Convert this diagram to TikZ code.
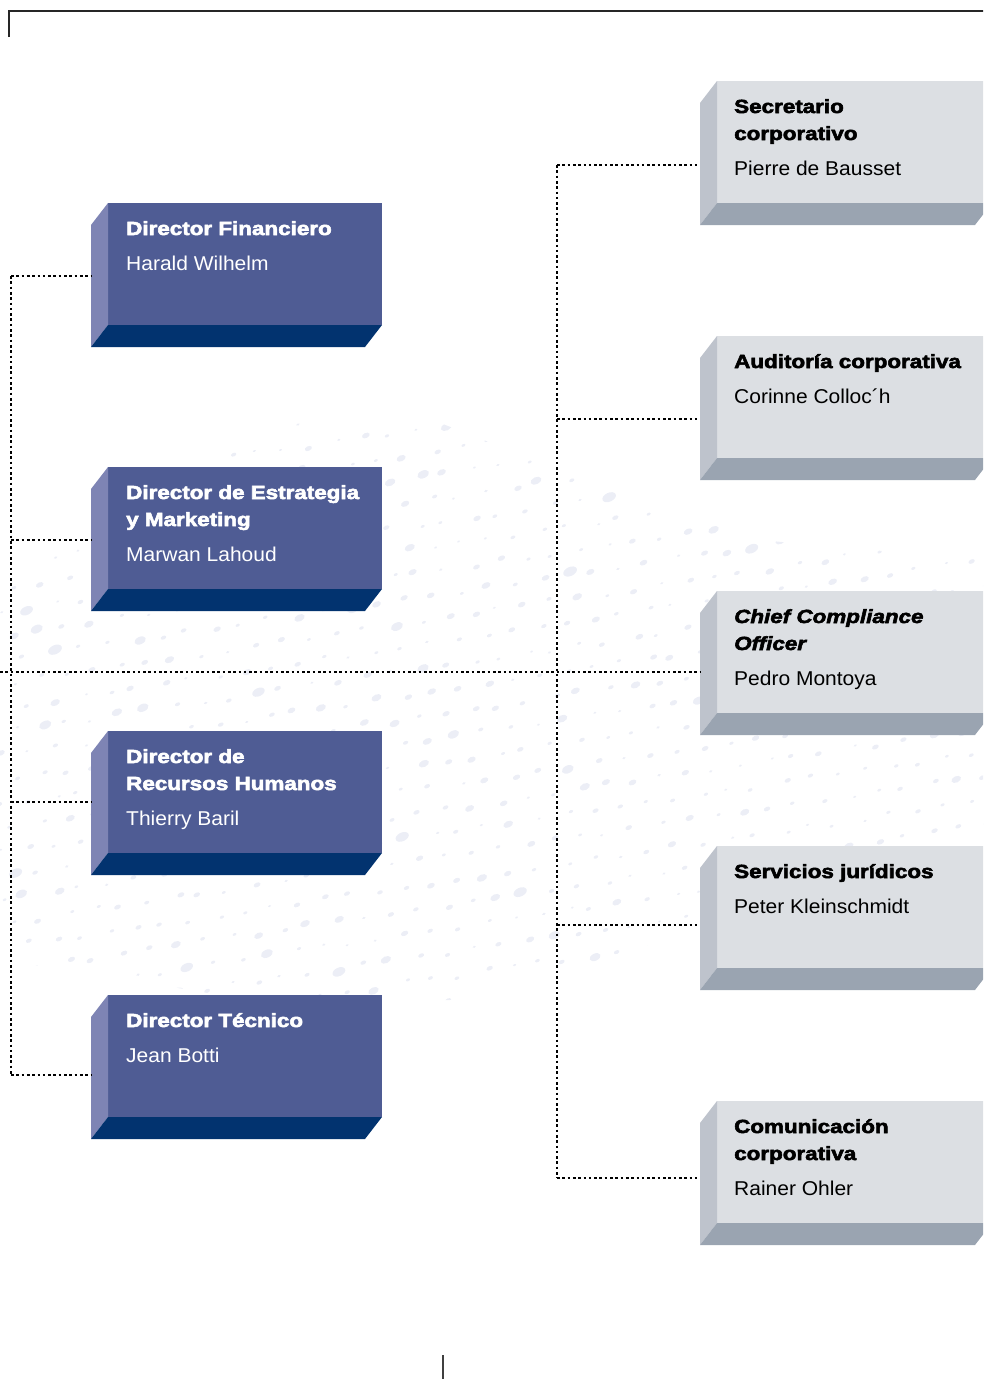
\documentclass[tikz,border=0pt]{standalone}
\usepackage{fontspec}
\setmainfont{Liberation Sans}
\newfontfamily\hfont{Liberation Sans}[BoldFeatures={FakeBold=3,FakeStretch=1.18},BoldItalicFeatures={FakeBold=3,FakeStretch=1.18}]
\newfontfamily\nfont{Liberation Sans}[FakeStretch=1.05]
\definecolor{bfront}{HTML}{4F5C94}
\definecolor{bside}{HTML}{7E84B4}
\definecolor{bbottom}{HTML}{02336F}
\definecolor{gfront}{HTML}{DCDFE3}
\definecolor{gside}{HTML}{BEC3CC}
\definecolor{gbottom}{HTML}{9AA4B1}
\definecolor{blobc}{HTML}{ECEEF6}
\tikzset{
  dotline/.style={line width=2.8pt, dash pattern=on 2.6pt off 2.7pt, line cap=butt, black},
  hit/.style={inner sep=0pt, outer sep=0pt, draw=none},
  bhead/.style={anchor=base west, inner sep=0pt, text=white, font=\hfont\bfseries\fontsize{19}{27}\selectfont},
  bname/.style={anchor=base west, inner sep=0pt, text=white, font=\nfont\fontsize{20}{27}\selectfont},
  ghead/.style={bhead, text=black},
  gname/.style={bname, text=black},
  frameline/.style={line width=1.3pt, black!85},
}
\newcommand\bluefaces[1]{%
  \fill[bfront] (108,#1) rectangle (382,#1+122);
  \fill[bside] (91,#1+22) -- (108,#1) -- (108,#1+122) -- (91,#1+144) -- cycle;
  \fill[bbottom] (108,#1+122) -- (382,#1+122) -- (365,#1+144) -- (91,#1+144) -- cycle;
}
\newcommand\greyfaces[1]{%
  \fill[gfront] (717,#1) rectangle (992,#1+122);
  \fill[gside] (700,#1+22) -- (717,#1) -- (717,#1+122) -- (700,#1+144) -- cycle;
  \fill[gbottom] (717,#1+122) -- (992,#1+122) -- (975,#1+144) -- (700,#1+144) -- cycle;
}
\begin{document}
\begin{tikzpicture}[x=1pt,y=-1pt]
\useasboundingbox (0,0) rectangle (983,1379);
\clip (0,0) rectangle (983,1379);
% background pattern
\begin{scope}
\clip (0,585) -- (120,500) -- (280,425) -- (420,415) -- (560,470) -- (760,540) -- (983,560) -- (983,840) -- (800,900) -- (600,960) -- (450,1000) -- (250,1000) -- (100,975) -- (0,960) -- cycle;
\pgfmathsetseed{11}
\foreach \i in {0,...,30}{
  \foreach \j in {0,...,36}{
    \pgfmathsetmacro\xx{\j*27+mod(\i,2)*13+6*rand}
    \pgfmathsetmacro\yy{420+\i*24-0.15*\xx+3*rand}
    \pgfmathsetmacro\ss{0.4+1.4*rnd*rnd}
    \fill[blobc] (\xx,\yy) ellipse [x radius=4.2*\ss, y radius=2.6*\ss, rotate=25];
  }
}
\end{scope}
% frame marks
\draw[frameline] (9,37) -- (9,11) -- (990,11);
\draw[line width=1.6pt, black!75] (443,1355) -- (443,1385);
% boxes
\bluefaces{203}
\bluefaces{467}
\bluefaces{731}
\bluefaces{995}
\greyfaces{81}
\greyfaces{336}
\greyfaces{591}
\greyfaces{846}
\greyfaces{1101}
\node[hit, minimum width=291pt, minimum height=144pt] (fin) at (236.5,275) {};
\node[hit, minimum width=291pt, minimum height=144pt] (est) at (236.5,539) {};
\node[hit, minimum width=291pt, minimum height=144pt] (rh) at (236.5,803) {};
\node[hit, minimum width=291pt, minimum height=144pt] (tec) at (236.5,1067) {};
\node[hit, minimum width=292pt, minimum height=144pt] (sec) at (846,153) {};
\node[hit, minimum width=292pt, minimum height=144pt] (aud) at (846,408) {};
\node[hit, minimum width=292pt, minimum height=144pt] (cco) at (846,663) {};
\node[hit, minimum width=292pt, minimum height=144pt] (jur) at (846,918) {};
\node[hit, minimum width=292pt, minimum height=144pt] (com) at (846,1173) {};
% texts
\node[bhead] (fin-h) at (126,235) {Director Financiero};
\node[bname] (fin-n) at (126,270) {Harald Wilhelm};
\node[bhead] (est-h1) at (126,499) {Director de Estrategia};
\node[bhead] (est-h2) at (126,526) {y Marketing};
\node[bname] (est-n) at (126,561) {Marwan Lahoud};
\node[bhead] (rh-h1) at (126,763) {Director de};
\node[bhead] (rh-h2) at (126,790) {Recursos Humanos};
\node[bname] (rh-n) at (126,825) {Thierry Baril};
\node[bhead] (tec-h) at (126,1027) {Director Técnico};
\node[bname] (tec-n) at (126,1062) {Jean Botti};
\node[ghead] (sec-h1) at (734,113) {Secretario};
\node[ghead] (sec-h2) at (734,140) {corporativo};
\node[gname] (sec-n) at (734,175) {Pierre de Bausset};
\node[ghead] (aud-h) at (734,368) {Auditoría corporativa};
\node[gname] (aud-n) at (734,403) {Corinne Colloc´h};
\node[ghead, font=\hfont\bfseries\itshape\fontsize{19}{27}\selectfont] (cco-h1) at (734,623) {Chief Compliance};
\node[ghead, font=\hfont\bfseries\itshape\fontsize{19}{27}\selectfont] (cco-h2) at (734,650) {Officer};
\node[gname] (cco-n) at (734,685) {Pedro Montoya};
\node[ghead] (jur-h) at (734,878) {Servicios jurídicos};
\node[gname] (jur-n) at (734,913) {Peter Kleinschmidt};
\node[ghead] (com-h1) at (734,1133) {Comunicación};
\node[ghead] (com-h2) at (734,1160) {corporativa};
\node[gname] (com-n) at (734,1195) {Rainer Ohler};
% connector junctions
\coordinate (L1) at (11,276);
\coordinate (L2) at (11,540);
\coordinate (L3) at (11,802);
\coordinate (L4) at (11,1075);
\coordinate (M0) at (0,672);
\coordinate (R1) at (557,165);
\coordinate (R2) at (557,419);
\coordinate (R3) at (557,672);
\coordinate (R4) at (557,925);
\coordinate (R5) at (557,1178);
\draw[dotline] (L1) -- (L4);
\draw[dotline] (R1) -- (R5);
\draw[dotline] (M0) -- (M0 -| cco.west);
\draw[dotline] (L1) -- (L1 -| fin.west);
\draw[dotline] (L2) -- (L2 -| est.west);
\draw[dotline] (L3) -- (L3 -| rh.west);
\draw[dotline] (L4) -- (L4 -| tec.west);
\draw[dotline] (R1) -- (R1 -| sec.west);
\draw[dotline] (R2) -- (R2 -| aud.west);
\draw[dotline] (R4) -- (R4 -| jur.west);
\draw[dotline] (R5) -- (R5 -| com.west);
\end{tikzpicture}
\end{document}
